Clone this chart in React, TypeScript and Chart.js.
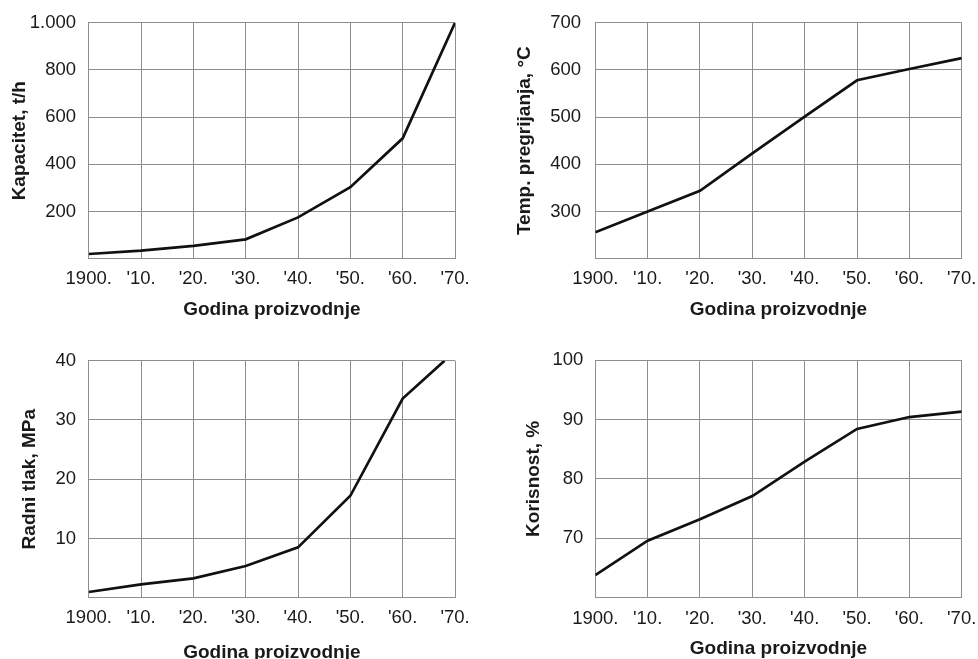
import React, { useEffect, useRef } from "react";
import { Chart, registerables } from "chart.js";

Chart.register(...registerables);

// ---- data ----
const years = [1900, 1910, 1920, 1930, 1940, 1950, 1960, 1970];
const xTickLabels = ["1900.", "'10.", "'20.", "'30.", "'40.", "'50.", "'60.", "'70."];
const xTitle = "Godina proizvodnje";

const capacityValues = [20, 34, 54, 82, 175, 303, 510, 1000];
const capacityTicks = ["", "200", "400", "600", "800", "1.000"];

const temperatureValues = [256, 300, 344, 423, 501, 578, 602, 625];
const temperatureTicks = ["", "300", "400", "500", "600", "700"];

const pressureYears = [1900, 1910, 1920, 1930, 1940, 1950, 1960, 1968];
const pressureValues = [0.96, 2.25, 3.26, 5.35, 8.5, 17.2, 33.6, 40];
const pressureTicks = ["", "10", "20", "30", "40"];

const efficiencyValues = [63.8, 69.6, 73.2, 77.1, 82.9, 88.4, 90.4, 91.3];
const efficiencyTicks = ["", "70", "80", "90", "100"];

// ---- panels ----
const FONT = "'Liberation Sans', Arial, Helvetica, sans-serif";
const GRID = "#8e8e8e";
const TEXT = "#1a1a1a";

type Panel = {
  title: string;
  xs: number[];
  ys: number[];
  yTicks: string[];
  yMin: number;
  yMax: number;
  yStep: number;
  left: number;
  top: number;
  width: number;
  height: number;
  pad: { left: number; right: number; top: number; bottom: number };
  yWidth: number;
  xHeight: number;
  xTickPad: number;
  yTickPad: number;
};

const panels: Panel[] = [
  {
    title: "Kapacitet, t/h",
    xs: years,
    ys: capacityValues,
    yTicks: capacityTicks,
    yMin: 0,
    yMax: 1000,
    yStep: 200,
    left: 0,
    top: 0,
    width: 489,
    height: 330,
    pad: { left: 7.9, right: 34, top: 22.7, bottom: 8.6 },
    yWidth: 80.8,
    xHeight: 62.7,
    xTickPad: 8.9,
    yTickPad: 12.7,
  },
  {
    title: "Temp. pregrijanja, °C",
    xs: years,
    ys: temperatureValues,
    yTicks: temperatureTicks,
    yMin: 200,
    yMax: 700,
    yStep: 100,
    left: 489,
    top: 0,
    width: 489,
    height: 330,
    pad: { left: 24.6, right: 16.3, top: 22.7, bottom: 8.6 },
    yWidth: 81.7,
    xHeight: 62.7,
    xTickPad: 8.9,
    yTickPad: 14.3,
  },
  {
    title: "Radni tlak, MPa",
    xs: pressureYears,
    ys: pressureValues,
    yTicks: pressureTicks,
    yMin: 0,
    yMax: 40,
    yStep: 10,
    left: 0,
    top: 330,
    width: 489,
    height: 340,
    pad: { left: 17.9, right: 34, top: 30.7, bottom: 6.1 },
    yWidth: 70.8,
    xHeight: 66.2,
    xTickPad: 9.5,
    yTickPad: 12.7,
  },
  {
    title: "Korisnost, %",
    xs: years,
    ys: efficiencyValues,
    yTicks: efficiencyTicks,
    yMin: 60,
    yMax: 100,
    yStep: 10,
    left: 489,
    top: 330,
    width: 489,
    height: 340,
    pad: { left: 33.1, right: 16.3, top: 30, bottom: 10.1 },
    yWidth: 73.2,
    xHeight: 62.2,
    xTickPad: 10.5,
    yTickPad: 12,
  },
];

function LinePanel({ p }: { p: Panel }) {
  const ref = useRef<HTMLCanvasElement | null>(null);
  useEffect(() => {
    if (!ref.current) return;
    const chart = new Chart(ref.current, {
      type: "line",
      data: {
        datasets: [
          {
            data: p.xs.map((x, i) => ({ x, y: p.ys[i] })),
            borderColor: "#111111",
            borderWidth: 2.7,
            pointRadius: 0,
            tension: 0,
            fill: false,
          },
        ],
      },
      options: {
        animation: false,
        responsive: false,
        maintainAspectRatio: false,
        layout: { padding: p.pad },
        plugins: { legend: { display: false }, tooltip: { enabled: false } },
        scales: {
          x: {
            type: "linear",
            min: 1900,
            max: 1970,
            afterFit: (s: any) => {
              s.height = p.xHeight;
              s.paddingLeft = 0;
              s.paddingRight = 0;
            },
            ticks: {
              stepSize: 10,
              autoSkip: false,
              maxRotation: 0,
              padding: p.xTickPad,
              color: TEXT,
              font: { family: FONT, size: 18.5 },
              callback: (_v: any, i: number) => xTickLabels[i],
            },
            grid: { color: GRID, lineWidth: 1, drawTicks: false },
            border: { display: true, color: GRID, width: 1 },
            title: {
              display: true,
              text: xTitle,
              color: TEXT,
              padding: 0,
              font: { family: FONT, size: 19, weight: "bold" },
            },
          },
          y: {
            type: "linear",
            min: p.yMin,
            max: p.yMax,
            afterFit: (s: any) => {
              s.width = p.yWidth;
              s.paddingTop = 0;
              s.paddingBottom = 0;
            },
            ticks: {
              stepSize: p.yStep,
              autoSkip: false,
              padding: p.yTickPad,
              color: TEXT,
              font: { family: FONT, size: 18.5 },
              callback: (_v: any, i: number) => p.yTicks[i],
            },
            grid: { color: GRID, lineWidth: 1, drawTicks: false },
            border: { display: true, color: GRID, width: 1 },
            title: {
              display: true,
              text: p.title,
              color: TEXT,
              padding: 0,
              font: { family: FONT, size: 19, weight: "bold" },
            },
          },
        },
      },
    } as any);
    return () => chart.destroy();
  }, [p]);
  return (
    <canvas
      ref={ref}
      width={p.width}
      height={p.height}
      style={{
        position: "absolute",
        left: p.left,
        top: p.top,
        width: p.width,
        height: p.height,
      }}
    />
  );
}

export default function App() {
  return (
    <div
      style={{
        position: "absolute",
        left: 0,
        top: 0,
        width: 978,
        height: 659,
        overflow: "hidden",
        background: "#ffffff",
      }}
    >
      {panels.map((p, i) => (
        <LinePanel key={i} p={p} />
      ))}
    </div>
  );
}
